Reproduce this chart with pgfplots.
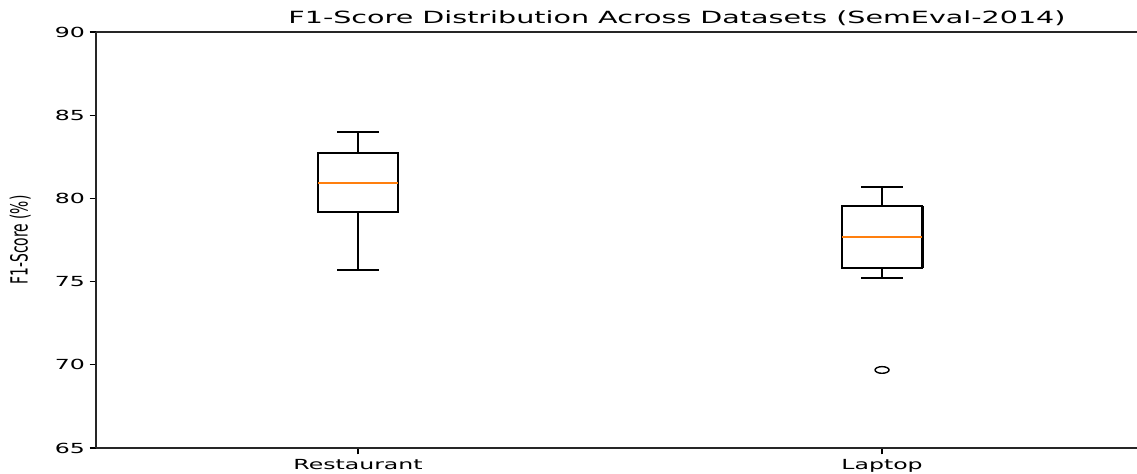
\documentclass[border=0pt]{standalone}
\usepackage{fontspec}
\usepackage{pgfplots}
\pgfplotsset{compat=1.18}
\newfontfamily\tickfont{DejaVu Sans}[FakeStretch=1.7]
\newfontfamily\ylabfont{DejaVu Sans}[FakeStretch=0.588]
\definecolor{mplorange}{HTML}{FF7F0E}
\pgfdeclareplotmark{oval}{%
  \pgfpathellipse{\pgfpointorigin}{\pgfqpoint{2.1\pgfplotmarksize}{0pt}}{\pgfqpoint{0pt}{\pgfplotmarksize}}%
  \pgfusepathqstroke}
\begin{document}
\begin{tikzpicture}
\begin{axis}[
  at={(0,0)}, anchor=south west,
  scale only axis,
  width=754.6pt, height=299.5pt,
  xmin=0.5, xmax=2.5,
  ymin=65, ymax=90,
  axis x line*=box, axis y line*=left,
  ytick={65,70,75,80,85,90},
  xtick={1,2},
  xticklabels={Restaurant,Laptop},
  xtick pos=bottom, ytick pos=left,
  tick align=outside,
  major tick length=4.5pt,
  tick style={black, line width=0.8pt},
  axis line style={black!85, line width=1.0pt, -},
  y axis line style={line width=1.5pt},
  /pgf/number format/assume math mode=true,
  ticklabel style={font=\tickfont\fontsize{10}{12}\selectfont, text=black},
  title={F1-Score Distribution Across Datasets (SemEval-2014)},
  every axis title/.style={font=\tickfont\fontsize{12.1}{14}\selectfont, at={(axis description cs:0.5,1)}, anchor=base, yshift=5.8pt, xshift=41pt},
  ylabel={F1-Score (\%)},
  every axis y label/.style={font=\ylabfont\fontsize{17}{19}\selectfont, at={(axis description cs:0,0.5)}, xshift=-54.5pt, rotate=90, anchor=center},
  clip=false,
]
% Restaurant: whiskers 75.7 / 84.0, box 79.2-82.71, median 80.94
\addplot[black, line width=1.3pt] coordinates {(0.9235,79.2) (1.0765,79.2) (1.0765,82.71) (0.9235,82.71)} -- cycle;
\addplot[black, line width=2.0pt] coordinates {(0.9235,79.2) (0.9235,82.71)};
\addplot[black, line width=2.0pt] coordinates {(1.0765,79.2) (1.0765,82.71)};
\addplot[black, line width=2.0pt] coordinates {(1,79.2) (1,75.7)};
\addplot[black, line width=2.0pt] coordinates {(1,82.71) (1,84.0)};
\addplot[black, line width=1.3pt] coordinates {(0.9605,75.7) (1.0395,75.7)};
\addplot[black, line width=1.3pt] coordinates {(0.9605,84.0) (1.0395,84.0)};
\addplot[mplorange, line width=1.3pt] coordinates {(0.9245,80.94) (1.0755,80.94)};
% Laptop: whiskers 75.22 / 80.7, box 75.84-79.56, median 77.7, outlier 69.69
\addplot[black, line width=1.3pt] coordinates {(1.9235,75.84) (2.0765,75.84) (2.0765,79.56) (1.9235,79.56)} -- cycle;
\addplot[black, line width=2.0pt] coordinates {(1.9235,75.84) (1.9235,79.56)};
\addplot[black, line width=2.0pt] coordinates {(2.0765,75.84) (2.0765,79.56)};
\addplot[black, line width=2.0pt] coordinates {(2,75.84) (2,75.22)};
\addplot[black, line width=2.0pt] coordinates {(2,79.56) (2,80.7)};
\addplot[black, line width=1.3pt] coordinates {(1.9605,75.22) (2.0395,75.22)};
\addplot[black, line width=1.3pt] coordinates {(1.9605,80.7) (2.0395,80.7)};
\addplot[mplorange, line width=1.3pt] coordinates {(1.9245,77.7) (2.0755,77.7)};
\addplot[only marks, mark=oval, mark size=2.4pt, mark options={black, line width=1.0pt}] coordinates {(2,69.69)};
\end{axis}
\pgfresetboundingbox
\useasboundingbox (-69.12pt,-18pt) rectangle (749.52pt,322.56pt);
\end{tikzpicture}
\end{document}
